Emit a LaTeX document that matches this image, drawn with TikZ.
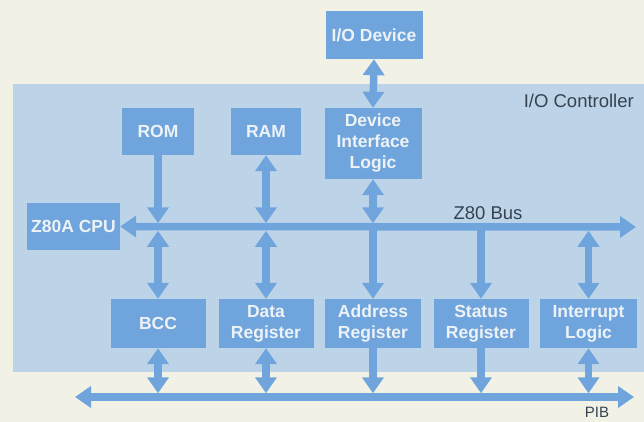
\documentclass[tikz,border=0pt]{standalone}
\usepackage{fontspec}
\setmainfont{Liberation Sans}
\usetikzlibrary{arrows.meta}
\definecolor{bgcream}{HTML}{F1F1E6}
\definecolor{regionblue}{HTML}{BDD4E8}
\definecolor{boxblue}{HTML}{6FA5DC}
\definecolor{boxtext}{HTML}{EDF2F7}
\definecolor{labeltext}{HTML}{354250}
\tikzset{
  unitbox/.style={fill=boxblue, draw=none, text=boxtext, align=center, inner sep=0pt,
    font=\bfseries\fontsize{17.5}{21}\selectfont},
  lbl/.style={text=labeltext, inner sep=0pt, font=\fontsize{18.5}{21}\selectfont},
  busline/.style={draw=boxblue, line width=7.5pt},
  onehead/.style={busline, -{Triangle[width=21pt,length=16pt]}},
  twohead/.style={busline, {Triangle[width=21pt,length=16pt]}-{Triangle[width=21pt,length=16pt]}}
}
\begin{document}
\begin{tikzpicture}[x=1pt,y=-1pt]
\useasboundingbox (0,0) rectangle (644,422);
\fill[bgcream] (0,0) rectangle (644,422);
\fill[regionblue] (13,84) rectangle (644,372);

% boxes
\node[unitbox, minimum width=97pt, minimum height=48pt] (iodev) at (374,35) {I/O Device};
\node[unitbox, minimum width=72pt, minimum height=47pt] (rom) at (158,131.5) {ROM};
\node[unitbox, minimum width=70pt, minimum height=47pt] (ram) at (266,131.5) {RAM};
\node[unitbox, minimum width=97pt, minimum height=71pt] (dil) at (373,143.5) {Device\\Interface\\Logic};
\node[unitbox, minimum width=93pt, minimum height=47pt] (cpu) at (73.5,226.5) {Z80A CPU};
\node[unitbox, minimum width=95pt, minimum height=49pt] (bcc) at (158,323.5) {BCC};
\node[unitbox, minimum width=95pt, minimum height=49pt] (datareg) at (266,323.5) {Data\\Register};
\node[unitbox, minimum width=96pt, minimum height=49pt] (addrreg) at (373,323.5) {Address\\Register};
\node[unitbox, minimum width=95pt, minimum height=49pt] (statreg) at (481,323.5) {Status\\Register};
\node[unitbox, minimum width=97pt, minimum height=49pt] (intlog) at (588.5,323.5) {Interrupt\\Logic};

% labels
\node[lbl, anchor=east] (ctrl) at (634,101) {I/O Controller};
\node[lbl] (z80lbl) at (488,213.5) {Z80 Bus};
\node[lbl, font=\fontsize{15}{18}\selectfont] (piblbl) at (597,412.5) {PIB};

% buses
\coordinate (zr) at (636,227);
\coordinate (pl) at (75,397);
\coordinate (pr) at (634,397);
\draw[twohead] (cpu.east) -- (zr);
\draw[twohead] (pl) -- (pr);

% I/O device link
\draw[twohead] (iodev.south) -- (dil.north);

% top units to Z80 bus
\draw[onehead, shorten >=3.75pt] (rom.south) -- (rom.south |- zr);
\draw[twohead, shorten >=3.75pt] (ram.south) -- (ram.south |- zr);
\draw[twohead, shorten >=3.75pt] (dil.south) -- (dil.south |- zr);

% Z80 bus to lower units
\draw[twohead, shorten <=3.75pt] (bcc.north |- zr) -- (bcc.north);
\draw[twohead, shorten <=3.75pt] (datareg.north |- zr) -- (datareg.north);
\draw[onehead] (addrreg.north |- zr) -- (addrreg.north);
\draw[onehead] (statreg.north |- zr) -- (statreg.north);
\draw[twohead, shorten <=3.75pt] (intlog.north |- zr) -- (intlog.north);

% lower units to PIB
\draw[twohead, shorten >=3.75pt] (bcc.south) -- (bcc.south |- pl);
\draw[twohead, shorten >=3.75pt] (datareg.south) -- (datareg.south |- pl);
\draw[onehead, shorten >=3.75pt] (addrreg.south) -- (addrreg.south |- pl);
\draw[onehead, shorten >=3.75pt] (statreg.south) -- (statreg.south |- pl);
\draw[twohead, shorten >=3.75pt] (intlog.south) -- (intlog.south |- pl);
\end{tikzpicture}
\end{document}
